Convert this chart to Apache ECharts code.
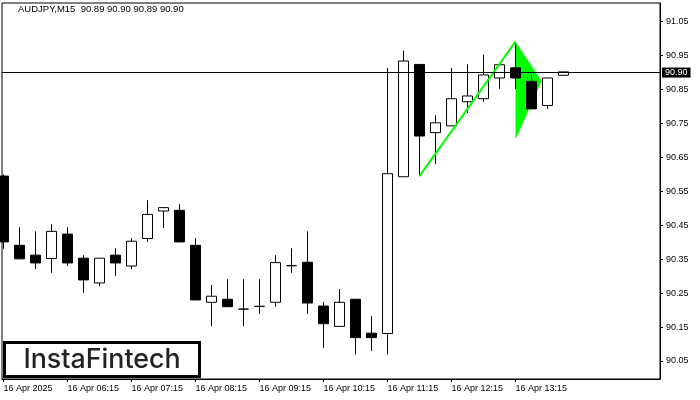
<!DOCTYPE html>
<html><head><meta charset="utf-8">
<script src="https://cdn.jsdelivr.net/npm/echarts@6/dist/echarts.min.js"></script>
<style>html,body{margin:0;padding:0;background:#fff}#c{width:700px;height:400px}</style>
</head><body><div id="c"></div>
<script>
// candle times (M15)
const times = ['05:15','05:30','05:45','06:00','06:15','06:30','06:45','07:00','07:15','07:30','07:45','08:00',
  '08:15','08:30','08:45','09:00','09:15','09:30','09:45','10:00','10:15','10:30','10:45','11:00',
  '11:15','11:30','11:45','12:00','12:15','12:30','12:45','13:00','13:15','13:30','13:45','14:00'];
const opens  = [90.595,90.391,90.362,90.352,90.424,90.353,90.280,90.362,90.330,90.411,90.492,90.494,
  90.391,90.223,90.232,90.203,90.211,90.223,90.331,90.341,90.212,90.152,90.232,90.132,
  90.131,90.593,90.924,90.723,90.743,90.814,90.823,90.884,90.914,90.874,90.803,90.892];
const closes = [90.401,90.351,90.339,90.432,90.339,90.289,90.353,90.339,90.403,90.482,90.502,90.401,
  90.230,90.241,90.210,90.203,90.211,90.340,90.331,90.221,90.160,90.223,90.119,90.119,
  90.602,90.934,90.713,90.752,90.823,90.831,90.893,90.923,90.884,90.793,90.884,90.902];
const lows   = [90.381,90.351,90.321,90.310,90.330,90.251,90.271,90.301,90.321,90.401,90.442,90.401,
  90.230,90.152,90.210,90.152,90.189,90.210,90.310,90.189,90.089,90.152,90.070,90.080,
  90.070,90.593,90.595,90.630,90.743,90.781,90.814,90.852,90.852,90.793,90.793,90.892];
const highs  = [90.600,90.444,90.432,90.453,90.444,90.362,90.353,90.382,90.412,90.524,90.502,90.512,
  90.412,90.274,90.291,90.291,90.291,90.362,90.382,90.432,90.224,90.262,90.232,90.182,
  90.914,90.965,90.924,90.774,90.914,90.924,90.953,90.923,90.991,90.893,90.884,90.902];
const tickIndices = [0,4,8,12,16,20,24,28,32];
const tickLabels = ['16 Apr 2025','16 Apr 06:15','16 Apr 07:15','16 Apr 08:15','16 Apr 09:15',
  '16 Apr 10:15','16 Apr 11:15','16 Apr 12:15','16 Apr 13:15'];
const yTicks = [90.05,90.15,90.25,90.35,90.45,90.55,90.65,90.75,90.85,90.95,91.05];
const lastPrice = 90.90;
const poleStart = [26, 90.595];
const poleEnd = [32, 90.991];
const pennant = [[32, 90.991],[33.64, 90.875],[32, 90.703]];
const titleText = 'AUDJPY,M15  90.89 90.90 90.89 90.90';

const FONT = '"Liberation Sans", Arial, sans-serif';
const chart = echarts.init(document.getElementById('c'));
chart.setOption({
  animation: false,
  backgroundColor: '#fff',
  grid: {left: 2, right: 40, top: 3, bottom: 21, show: true, borderColor: '#000', borderWidth: 1, backgroundColor: '#fff'},
  xAxis: {
    type: 'value', min: -0.09375, max: 41.03125,
    splitLine: {show: false},
    axisLine: {show: true, onZero: false, lineStyle: {color: '#000', width: 1}},
    axisTick: {show: true, customValues: tickIndices, length: 3, lineStyle: {color: '#000'}},
    axisLabel: {customValues: tickIndices, formatter: v => tickLabels[tickIndices.indexOf(Math.round(v))],
      align: 'left', margin: 5, fontSize: 9, fontFamily: FONT, color: '#000'}
  },
  yAxis: {
    type: 'value', position: 'right', min: 89.997, max: 91.105, scale: true,
    splitLine: {show: false},
    axisLine: {show: true, onZero: false, lineStyle: {color: '#000', width: 1}},
    axisTick: {show: true, customValues: yTicks, length: 3, lineStyle: {color: '#000'}},
    axisLabel: {customValues: yTicks, formatter: v => v.toFixed(2), margin: 6, fontSize: 9, fontFamily: FONT, color: '#000'}
  },
  series: [
    {
      type: 'custom', z: 1, silent: true, clip: true,
      data: [0],
      renderItem: (params, api) => ({
        type: 'polygon',
        shape: {points: pennant.map(p => api.coord(p))},
        style: {fill: '#00ff00'}
      })
    },
    {
      type: 'candlestick', z: 2, barWidth: 10, clip: true, silent: true,
      data: opens.map((o, i) => [i, o, closes[i], lows[i], highs[i]]),
      itemStyle: {color: '#fff', color0: '#000', borderColor: '#000', borderColor0: '#000', borderColorDoji: '#000', borderWidth: 1},
      markLine: {
        silent: true, symbol: ['none', 'none'], animation: false,
        data: [{yAxis: lastPrice}],
        lineStyle: {color: '#000', width: 1, type: 'solid'},
        label: {position: 'end', formatter: lastPrice.toFixed(2), color: '#fff', backgroundColor: '#000',
          padding: [1, 3, 0, 3], fontSize: 9, fontFamily: FONT, distance: 2},
        emphasis: {disabled: true}
      }
    },
    {
      type: 'line', z: 3, silent: true, symbol: 'none',
      data: [poleStart, poleEnd],
      lineStyle: {color: '#00ff00', width: 2}
    }
  ],
  graphic: [
    {type: 'text', left: 18, top: 4, z: 10, style: {text: titleText, font: '9.5px ' + FONT, fill: '#000'}},
    {type: 'rect', z: 10, shape: {x: 4.5, y: 342.5, width: 195, height: 34}, style: {fill: '#fff', stroke: '#000', lineWidth: 3}},
    {type: 'text', z: 11, x: 102, y: 360, style: {text: 'InstaFintech', font: '500 26.8px Inter, sans-serif', fill: '#222', align: 'center', verticalAlign: 'middle'}}
  ]
});
</script></body></html>
